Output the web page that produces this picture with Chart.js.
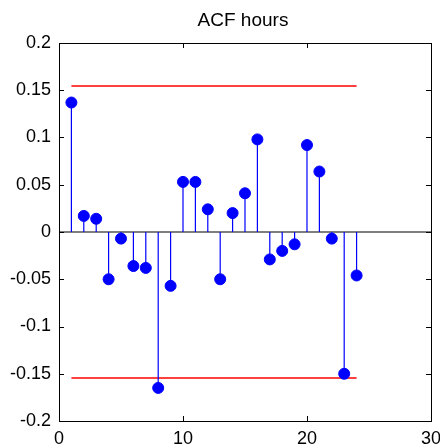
<!DOCTYPE html>
<html>
<head>
<meta charset="utf-8">
<script src="https://cdn.jsdelivr.net/npm/chart.js@4/dist/chart.umd.min.js"></script>
<style>
  html, body { margin: 0; padding: 0; background: #fff; }
  #wrap { width: 440px; height: 447px; }
</style>
</head>
<body>
<div id="wrap"><canvas id="acf"></canvas></div>
<script>
var lags = [1, 2, 3, 4, 5, 6, 7, 8, 9, 10, 11, 12, 13, 14, 15, 16, 17, 18, 19, 20, 21, 22, 23, 24];
var acf = [0.137, 0.017, 0.014, -0.050, -0.007, -0.036, -0.038, -0.165, -0.057, 0.053, 0.053, 0.024,
           -0.050, 0.020, 0.041, 0.098, -0.029, -0.020, -0.013, 0.092, 0.064, -0.007, -0.150, -0.046];
var bound = 0.1545;
var xTicks = [0, 10, 20, 30];
var yTicks = [-0.2, -0.15, -0.1, -0.05, 0, 0.05, 0.1, 0.15, 0.2];

// stems: each lag goes 0 -> value, broken by a null point
var stems = [];
for (var i = 0; i < lags.length; i++) {
    stems.push({x: lags[i], y: 0});
    stems.push({x: lags[i], y: acf[i]});
    stems.push({x: lags[i], y: null});
}
var heads = lags.map(function (l, i) { return {x: l, y: acf[i]}; });

var font = {family: 'Liberation Sans, Arial, sans-serif', size: 18};

var frame = {
    id: 'frame',
    afterDatasetsDraw: function (chart) {
        var ctx = chart.ctx, a = chart.chartArea;
        var xs = chart.scales.x, ys = chart.scales.y;
        ctx.save();
        ctx.strokeStyle = '#000';
        ctx.lineWidth = 1;
        ctx.beginPath();
        xTicks.forEach(function (t) {
            var px = Math.round(xs.getPixelForValue(t)) + 0.5;
            ctx.moveTo(px, a.bottom); ctx.lineTo(px, a.bottom - 5);
            ctx.moveTo(px, a.top); ctx.lineTo(px, a.top + 5);
        });
        yTicks.forEach(function (t) {
            var py = Math.round(ys.getPixelForValue(t)) + 0.5;
            ctx.moveTo(a.left, py); ctx.lineTo(a.left + 5, py);
            ctx.moveTo(a.right, py); ctx.lineTo(a.right - 5, py);
        });
        ctx.stroke();
        ctx.strokeRect(Math.round(a.left) + 0.5, Math.round(a.top) + 0.5,
                       Math.round(a.right - a.left), Math.round(a.bottom - a.top));
        ctx.fillStyle = '#000';
        ctx.font = '19px ' + font.family;
        ctx.textAlign = 'center';
        ctx.textBaseline = 'middle';
        ctx.fillText('ACF hours', (a.left + a.right) / 2 - 2, 21);
        ctx.restore();
    }
};

new Chart(document.getElementById('acf').getContext('2d'), {
    type: 'scatter',
    data: {
        datasets: [
            {
                data: heads, showLine: false, pointRadius: 5.5, pointHoverRadius: 5.5,
                backgroundColor: '#0000ff', borderColor: '#0000ff', borderWidth: 1, order: 0
            },
            {
                data: stems, showLine: true, spanGaps: false, pointRadius: 0,
                borderColor: '#0000ff', borderWidth: 1.2, order: 1
            },
            {
                data: [{x: 0, y: 0}, {x: 30, y: 0}], showLine: true, pointRadius: 0,
                borderColor: '#000', borderWidth: 1.2, order: 2
            },
            {
                data: [{x: 1, y: bound}, {x: 24, y: bound}], showLine: true, pointRadius: 0,
                borderColor: '#ff0000', borderWidth: 1.5, order: 2
            },
            {
                data: [{x: 1, y: -bound}, {x: 24, y: -bound}], showLine: true, pointRadius: 0,
                borderColor: '#ff0000', borderWidth: 1.5, order: 2
            }
        ]
    },
    options: {
        responsive: true,
        maintainAspectRatio: false,
        animation: false,
        layout: {autoPadding: false, padding: {top: 43, right: 9, left: 0, bottom: 0}},
        plugins: {legend: {display: false}, tooltip: {enabled: false}, title: {display: false}},
        scales: {
            x: {
                type: 'linear', min: 0, max: 30,
                afterBuildTicks: function (s) { s.ticks = xTicks.map(function (v) { return {value: v}; }); },
                afterFit: function (s) { s.height = 26; },
                grid: {display: false}, border: {display: false},
                ticks: {color: '#000', font: font, padding: -1, maxRotation: 0}
            },
            y: {
                type: 'linear', min: -0.2, max: 0.2,
                afterBuildTicks: function (s) { s.ticks = yTicks.map(function (v) { return {value: v}; }); },
                afterFit: function (s) { s.width = 59; },
                grid: {display: false}, border: {display: false},
                ticks: {color: '#000', font: font, padding: 0,
                    callback: function (v) { return String(Math.round(v * 100) / 100); }}
            }
        }
    },
    plugins: [frame]
});
</script>
</body>
</html>
